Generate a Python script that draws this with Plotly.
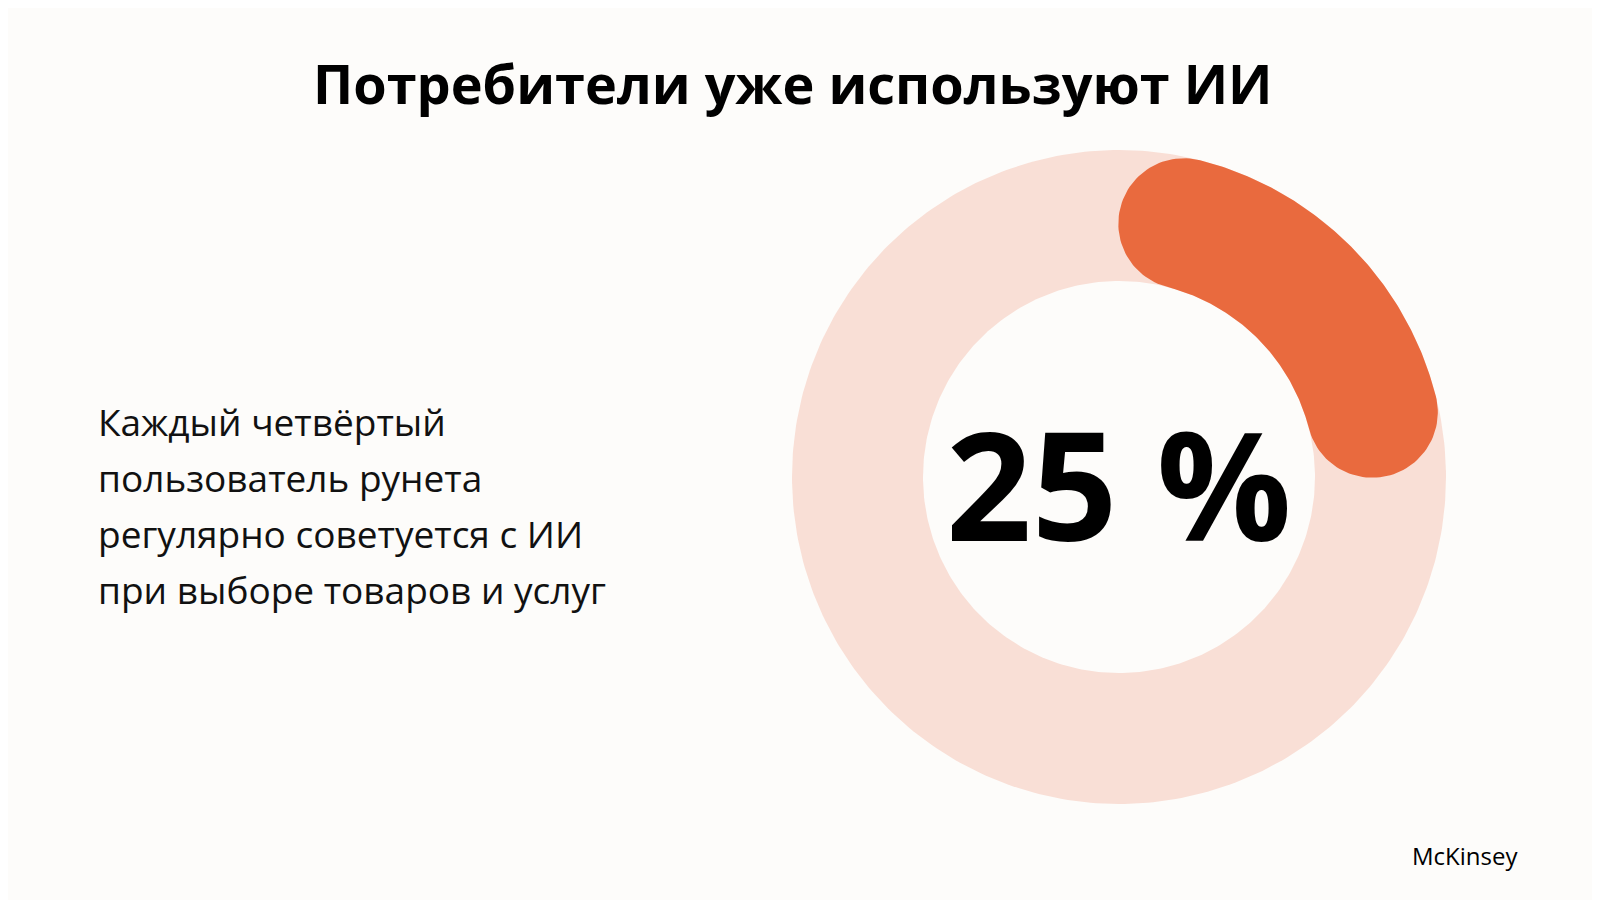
import numpy as np
import plotly.graph_objs as go

# Data
share = 25  # percent
title = 'Потребители уже используют ИИ'
caption_lines = ['Каждый четвёртый', 'пользователь рунета',
                 'регулярно советуется с ИИ', 'при выборе товаров и услуг']
source = 'McKinsey'

BG = '#FDFCFA'
TRACK = '#F9DFD6'
ORANGE = '#E96A3E'
cx, cy, R, r = 1111, 469, 327, 196


def pt(ang_deg, rad, ox=cx, oy=cy):
    a = np.radians(ang_deg)
    return ox + rad * np.sin(a), oy - rad * np.cos(a)


def circle(rad):
    t = np.linspace(0, 360, 361)
    return pt(t, rad)


# Rounded arc for the value
w = (R - r) / 2
rc = r + w
cap = np.degrees(w / rc)
a0, a1 = cap, share / 100 * 360 - cap
body = np.linspace(a0, a1, 120)
ox_, oy_ = pt(body, R)
c1x, c1y = pt(a1, rc)
t1 = np.linspace(a1, a1 + 180, 60)
e1x, e1y = pt(t1, w, c1x, c1y)
ix_, iy_ = pt(body[::-1], r)
c0x, c0y = pt(a0, rc)
t0 = np.linspace(a0 + 180, a0 + 360, 60)
e0x, e0y = pt(t0, w, c0x, c0y)
arc_x = np.concatenate([ox_, e1x, ix_, e0x])
arc_y = np.concatenate([oy_, e1y, iy_, e0y])

ox1, oy1 = circle(R)
ix1, iy1 = circle(r)
data = [
    go.Scatter(x=ox1, y=oy1, fill='toself', fillcolor=TRACK, mode='lines',
               line=dict(width=0), hoverinfo='skip'),
    go.Scatter(x=ix1, y=iy1, fill='toself', fillcolor=BG, mode='lines',
               line=dict(width=0), hoverinfo='skip'),
    go.Scatter(x=arc_x, y=arc_y, fill='toself', fillcolor=ORANGE, mode='lines',
               line=dict(width=0), hoverinfo='skip'),
]

font = 'Open Sans, Noto Sans, sans-serif'
ann = [dict(x=785, y=75, text='<b>%s</b>' % title, showarrow=False,
            font=dict(size=54, color='#000', family=font)),
       dict(x=cx, y=475, text='<b>%d %%</b>' % share, showarrow=False,
            font=dict(size=150, color='#000', family=font)),
       dict(x=1512, y=847, text=source, showarrow=False, xanchor='right',
            font=dict(size=24, color='#000', family=font))]
for i, line in enumerate(caption_lines):
    ann.append(dict(x=88, y=413 + 56 * i, text=line, showarrow=False,
                    xanchor='left', font=dict(size=37, color='#111', family=font)))

layout = go.Layout(width=1600, height=900, margin=dict(l=0, r=0, t=0, b=0),
                   paper_bgcolor=BG, plot_bgcolor=BG, showlegend=False,
                   xaxis=dict(range=[0, 1600], visible=False, fixedrange=True),
                   yaxis=dict(range=[900, 0], visible=False, fixedrange=True),
                   annotations=ann)

fig = go.Figure(data=data, layout=layout)
fig.write_html('out.html')
